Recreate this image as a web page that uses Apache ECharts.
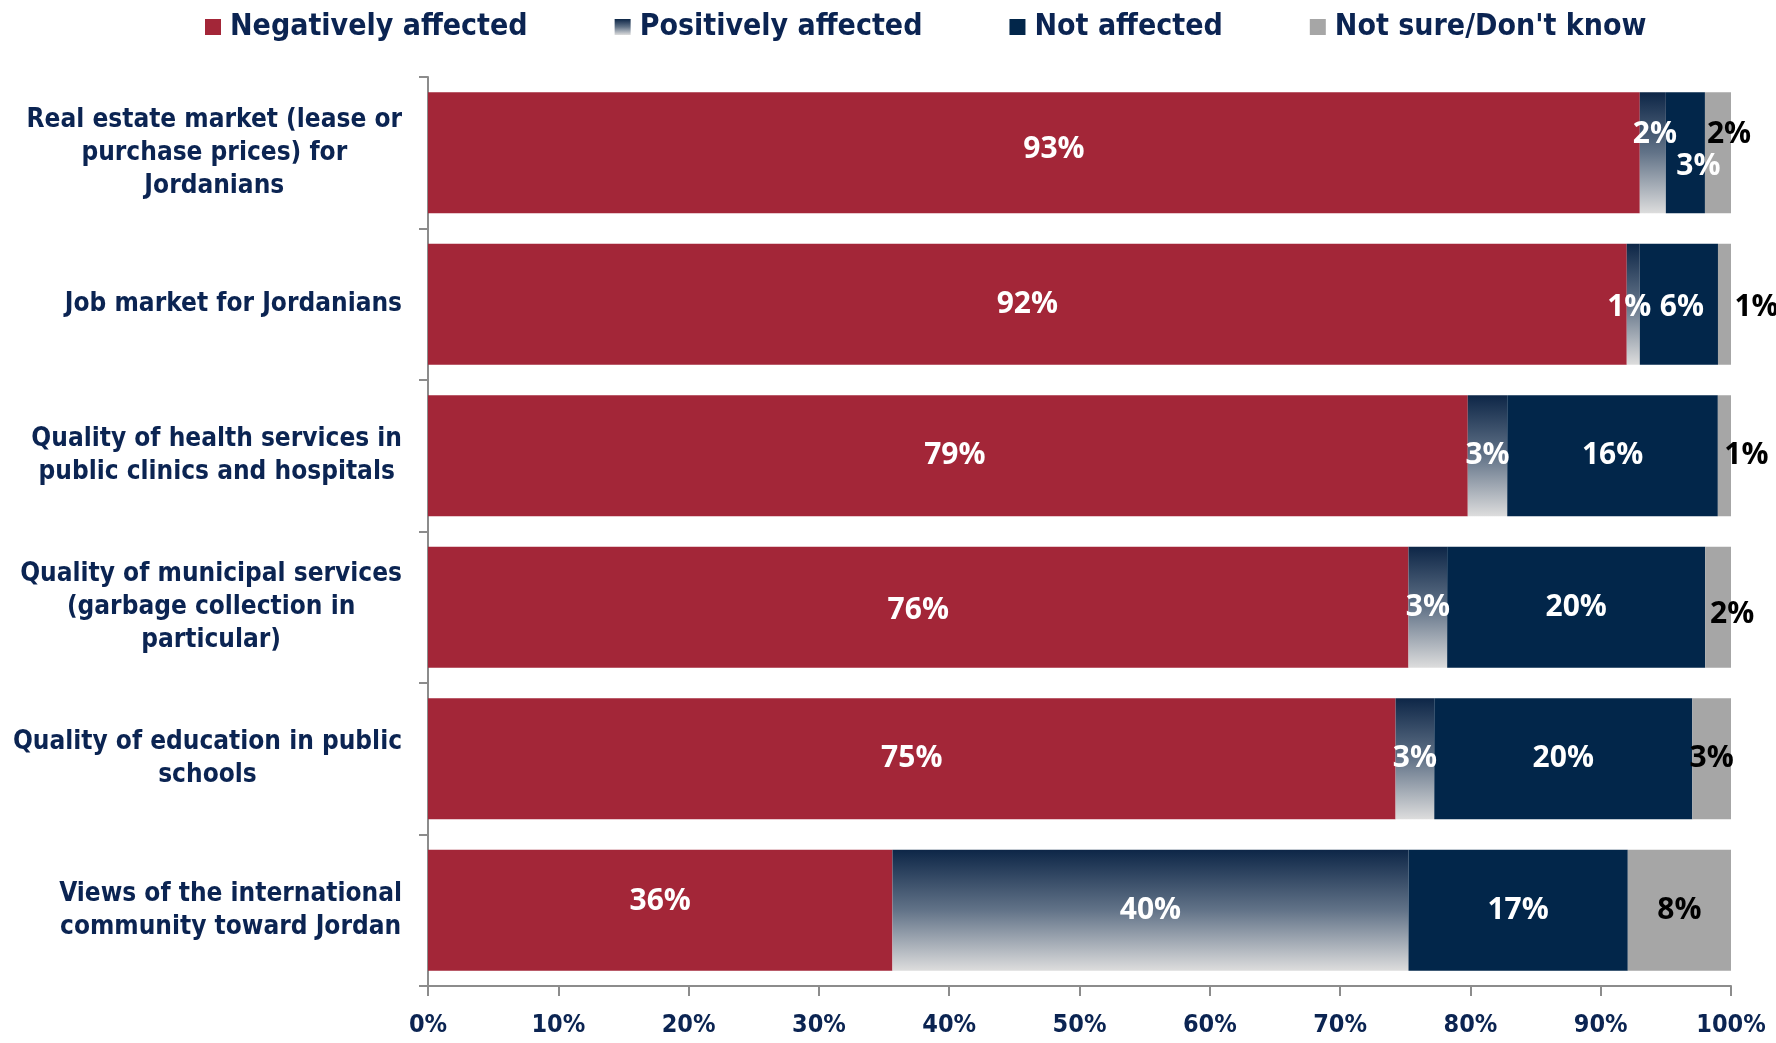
<!DOCTYPE html>
<html>
<head>
<meta charset="utf-8">
<script src="https://cdn.jsdelivr.net/npm/echarts@6/dist/echarts.min.js"></script>
<style>
	html, body {
		margin: 0;
		padding: 0;
		background: #ffffff;
	}
	#chart {
		width: 1776px;
		height: 1043px;
	}
</style>
</head>
<body>
<div id="chart"></div>
<script>
// categories, top to bottom
const categories = [
	'Real estate market (lease or\npurchase prices) for\nJordanians',
	'Job market for Jordanians',
	'Quality of health services in\npublic clinics and hospitals',
	'Quality of municipal services\n(garbage collection in\nparticular)',
	'Quality of education in public\nschools',
	'Views of the international\ncommunity toward Jordan'
];
const seriesNames = ['Negatively affected', 'Positively affected', 'Not affected', "Not sure/Don't know"];

// percentages as labelled on the chart
const negative = [93, 92, 79, 76, 75, 36];
const positive = [2, 1, 3, 3, 3, 40];
const notAffected = [3, 6, 16, 20, 20, 17];
const notSure = [2, 1, 1, 2, 3, 8];

const xTicks = [0, 10, 20, 30, 40, 50, 60, 70, 80, 90, 100];

// label nudges (style only)
const negOffset = [[20, -3], [0, 0], [7, 0], [0, 3], [0, 0], [0, -9]];
const posOffset = [[2, -18], [-4, 3], [0, 0], [0, 0], [0, 0], [0, 0]];
const notOffset = [[13, 14], [3, 3], [0, 0], [0, 0], [0, 0], [0, 0]];
const sureOffset = [[11, -18], [32, 3], [22, 0], [14, 7], [0, 0], [0, 0]];

const navyText = '#0b2452';
const colors = ['#a32638', null, '#02264a', '#a6a6a6'];
const posGradient = new echarts.graphic.LinearGradient(0, 0, 0, 1, [
	{ offset: 0, color: '#0d2647' },
	{ offset: 0.5, color: '#627388' },
	{ offset: 1, color: '#dddddd' }
]);

// 100% stacked: each row normalised to its own total
const rows = [negative, positive, notAffected, notSure];
const totals = categories.map((c, i) => rows.reduce((s, r) => s + r[i], 0));

function makeSeries(idx, raw, offsets, labelColor) {
	return {
		name: seriesNames[idx],
		type: 'bar',
		stack: 'total',
		barCategoryGap: '20%',
		itemStyle: { color: idx === 1 ? posGradient : colors[idx] },
		emphasis: { disabled: true },
		data: raw.map((v, i) => ({
			value: v / totals[i] * 100,
			label: { offset: offsets[i] }
		})),
		label: {
			show: true,
			position: 'inside',
			color: labelColor,
			fontFamily: '"Open Sans", sans-serif',
			fontWeight: 'bold',
			fontSize: 30,
			formatter: function(p) {
				return raw[p.dataIndex] + '%';
			}
		}
	};
}

let myChart = echarts.init(document.getElementById('chart'));
let option = {
	animation: false,
	legend: {
		top: 7,
		left: 200,
		itemGap: 87,
		itemWidth: 16,
		itemHeight: 16,
		icon: 'rect',
		textStyle: {
			fontFamily: '"DejaVu Sans Condensed", sans-serif',
			fontWeight: 'bold',
			fontSize: 30,
			color: navyText,
			padding: [0, 0, 0, 4]
		},
		data: seriesNames
	},
	grid: {
		left: 428,
		right: 45,
		top: 77,
		bottom: 57
	},
	xAxis: {
		type: 'value',
		min: xTicks[0],
		max: xTicks[xTicks.length - 1],
		interval: 10,
		axisLine: { show: true, lineStyle: { color: '#8c8c8c', width: 2 } },
		axisTick: { show: true, length: 10, lineStyle: { color: '#8c8c8c', width: 2 } },
		splitLine: { show: false },
		axisLabel: {
			margin: 27,
			formatter: '{value}%',
			fontFamily: '"DejaVu Sans Condensed", sans-serif',
			fontWeight: 'bold',
			fontSize: 25,
			color: navyText
		}
	},
	yAxis: {
		type: 'category',
		inverse: true,
		data: categories,
		axisLine: { show: true, lineStyle: { color: '#8c8c8c', width: 2 } },
		axisTick: { show: true, length: 9, lineStyle: { color: '#8c8c8c', width: 2 } },
		axisLabel: {
			margin: 26,
			align: 'right',
			formatter: function(v) {
				return '{c|' + v + '}';
			},
			rich: {
				c: {
					align: 'center',
					fontFamily: '"DejaVu Sans Condensed", sans-serif',
					fontWeight: 'bold',
					fontSize: 26,
					lineHeight: 33,
					color: navyText
				}
			}
		}
	},
	series: [
		makeSeries(0, negative, negOffset, '#ffffff'),
		makeSeries(1, positive, posOffset, '#ffffff'),
		makeSeries(2, notAffected, notOffset, '#ffffff'),
		makeSeries(3, notSure, sureOffset, '#000000')
	]
};

option && myChart.setOption(option);
</script>
</body>
</html>
